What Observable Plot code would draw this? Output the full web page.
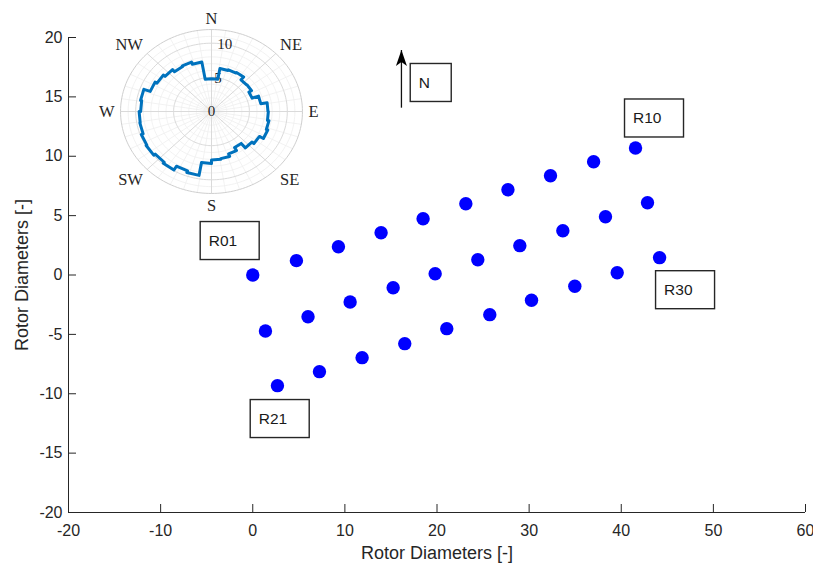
<!DOCTYPE html>
<html><head><meta charset="utf-8">
<script src="https://cdn.jsdelivr.net/npm/d3@7"></script>
<script src="https://cdn.jsdelivr.net/npm/@observablehq/plot@0.6"></script>
<style>
body{margin:0;background:#fff;}
#wrap{position:relative;width:813px;height:567px;overflow:hidden;}
#wrap svg{position:absolute;}
</style></head><body><div id="wrap"></div>
<script>
// ---------- data ----------
const xDomain = [-20, 60];
const yDomain = [-20, 20];
const xTicks = [-20, -10, 0, 10, 20, 30, 40, 50, 60];
const yTicks = [-20, -15, -10, -5, 0, 5, 10, 15, 20];
const xLabel = "Rotor Diameters [-]";
const yLabel = "Rotor Diameters [-]";

const turbineIds = d3.range(1, 31).map(i => "R" + String(i).padStart(2, "0"));
const turbineX = [
  0, 4.74, 9.3, 13.93, 18.49, 23.13, 27.7, 32.32, 37.0, 41.55,
  1.38, 6.0, 10.57, 15.24, 19.8, 24.43, 28.99, 33.66, 38.29, 42.85,
  2.68, 7.24, 11.87, 16.5, 21.06, 25.73, 30.26, 34.96, 39.56, 44.16
];
const turbineY = [
  0, 1.21, 2.38, 3.56, 4.74, 6.0, 7.18, 8.36, 9.54, 10.69,
  -4.72, -3.51, -2.27, -1.07, 0.11, 1.29, 2.47, 3.73, 4.91, 6.09,
  -9.32, -8.14, -6.96, -5.78, -4.52, -3.34, -2.13, -0.95, 0.19, 1.46
];

const labelNames = ["R01", "R10", "R21", "R30"];
const labelX = [-5.0, 41.06, 0.43, 44.43];
const labelY = [2.86, 13.18, -12.13, -1.28];

const northName = ["N"];
const northX = [17.8];
const northY = [16.17];

const arrowX = [16.14];
const arrowY1 = [14.09];
const arrowY2 = [18.95];

// wind rose: 36 sectors of 10 degrees, clockwise from North
const roseSectorStart = d3.range(0, 360, 10);
const roseValues = [
  4.8, 6.4, 6.5, 6.6, 6.05, 6.1, 5.7, 6.6, 7.45, 7.5,
  7.7, 7.9, 7.3, 6.95, 6.1, 6.6, 7.0, 7.1, 7.6, 9.5,
  9.25, 9.9, 9.7, 9.95, 9.85, 9.6, 9.55, 9.35, 9.5, 8.6,
  8.3, 8.0, 7.6, 7.7, 7.35, 4.8
];
const compassNames = ["N", "NE", "E", "SE", "S", "SW", "W", "NW"];
const compassDeg = [0, 45, 90, 135, 180, 225, 270, 315];
const rTicks = [0, 5, 10];
const rMax = 12;

// ---------- styles ----------
const W = 813, H = 567, mL = 68, mR = 8, mT = 37, mB = 55;
const plotW = W - mL - mR, plotH = H - mT - mB;
const ink = "#262626";
const sans = "'Liberation Sans', Arial, Helvetica, sans-serif";
const serif = "'Liberation Serif', 'Times New Roman', serif";

const turbines = turbineIds.map((id, i) => ({id, x: turbineX[i], y: turbineY[i]}));
const labels = labelNames.map((t, i) => ({text: t, x: labelX[i], y: labelY[i]}));
const north = northName.map((t, i) => ({text: t, x: northX[i], y: northY[i]}));
const arrows = arrowX.map((x, i) => ({x, y1: arrowY1[i], y2: arrowY2[i]}));

const arrowHead = {
  draw(ctx) {
    ctx.moveTo(0, 0);
    ctx.lineTo(-5.5, 16);
    ctx.lineTo(0, 12);
    ctx.lineTo(5.5, 16);
    ctx.closePath();
  }
};

function boxed(data, w) {
  return Plot.rect(data, {
    x1: "x", x2: "x", y1: "y", y2: "y",
    insetLeft: -6, insetRight: -(w - 6), insetTop: -19, insetBottom: -19,
    fill: "none", stroke: ink, strokeWidth: 1.4
  });
}

const main = Plot.plot({
  width: W, height: H,
  marginLeft: mL, marginRight: mR, marginTop: mT, marginBottom: mB,
  style: {background: "transparent", fontFamily: sans, color: ink},
  x: {domain: xDomain},
  y: {domain: yDomain},
  marks: [
    Plot.axisX({ticks: xTicks, tickSize: 0, tickPadding: 12, tickFormat: d => String(d), fontSize: 16, fill: ink, label: null}),
    Plot.axisY({ticks: yTicks, tickSize: 0, tickPadding: 6, tickFormat: d => String(d), fontSize: 16, fill: ink, label: null}),
    Plot.tickX(xTicks, {x: d => d, stroke: ink, insetTop: plotH - 8}),
    Plot.tickY(yTicks, {y: d => d, stroke: ink, insetRight: plotW - 8}),
    Plot.ruleY([yDomain[0]], {stroke: ink}),
    Plot.ruleX([xDomain[0]], {stroke: ink}),
    Plot.text([xLabel], {text: d => d, frameAnchor: "bottom", textAnchor: "middle", lineAnchor: "middle", dy: 41, fontSize: 18, fill: ink}),
    Plot.text([yLabel], {text: d => d, frameAnchor: "left", textAnchor: "middle", lineAnchor: "middle", dx: -46, rotate: -90, fontSize: 18, fill: ink}),
    Plot.dot(turbines, {x: "x", y: "y", r: 6.7, fill: "#0000ff"}),
    boxed(labels, 59),
    Plot.text(labels, {x: "x", y: "y", text: "text", textAnchor: "start", dx: 2, fontSize: 15.5, fill: "#1a1a1a"}),
    boxed(north, 41),
    Plot.text(north, {x: "x", y: "y", text: "text", textAnchor: "start", dx: 2, fontSize: 15.5, fill: "#1a1a1a"}),
    Plot.link(arrows, {x1: "x", x2: "x", y1: "y1", y2: "y2", stroke: "#111", strokeWidth: 1.3}),
    Plot.dot(arrows, {x: "x", y: "y2", symbol: arrowHead, r: 5, fill: "#000", stroke: "none"})
  ]
});

// ---------- polar inset ----------
const PW = 240, PH = 220, kx = 7.58, ky = 6.83;
const rad = b => b * Math.PI / 180;
const px = (b, r) => r * Math.sin(rad(b));
const py = (b, r) => r * Math.cos(rad(b));

const minorR = d3.range(1, rMax).filter(r => r % 5 !== 0);
const majorR = [5, 10];
const circle = r => d3.range(0, 361, 2).map(b => ({r, x: px(b, r), y: py(b, r)}));
const minorCircles = minorR.flatMap(circle);
const majorCircles = majorR.flatMap(circle);
const outerCircle = circle(rMax);
const minorSpokes = d3.range(0, 360, 9).filter(b => b % 45 !== 0).map(b => ({x2: px(b, rMax), y2: py(b, rMax)}));
const majorSpokes = compassDeg.map(b => ({x2: px(b, rMax), y2: py(b, rMax)}));

const rosePts = [];
roseSectorStart.forEach((b, i) => {
  rosePts.push({x: px(b, roseValues[i]), y: py(b, roseValues[i])});
  rosePts.push({x: px(b + 10, roseValues[i]), y: py(b + 10, roseValues[i])});
});
rosePts.push(rosePts[0]);

const labR = rMax + 0.8;
const compassMarks = compassNames.map((name, i) => {
  const b = compassDeg[i];
  const s = Math.sin(rad(b)), c = Math.cos(rad(b));
  return Plot.text([{name, x: px(b, labR), y: py(b, labR)}], {
    x: "x", y: "y", text: "name",
    textAnchor: s > 0.1 ? "start" : s < -0.1 ? "end" : "middle",
    lineAnchor: c > 0.1 ? "bottom" : c < -0.1 ? "top" : "middle",
    fontFamily: serif, fontSize: 16.5, fill: ink
  });
});
const rLabels = rTicks.map(r => ({t: String(r), x: px(10, r), y: py(10, r)}));

const polar = Plot.plot({
  width: PW, height: PH, margin: 0,
  x: {domain: [-PW / 2 / kx, PW / 2 / kx], axis: null},
  y: {domain: [-PH / 2 / ky, PH / 2 / ky], axis: null},
  style: {background: "transparent", overflow: "visible"},
  marks: [
    Plot.line(minorCircles, {x: "x", y: "y", z: "r", stroke: "#efefef", strokeWidth: 0.8}),
    Plot.link(minorSpokes, {x1: 0, y1: 0, x2: "x2", y2: "y2", stroke: "#efefef", strokeWidth: 0.8}),
    Plot.line(majorCircles, {x: "x", y: "y", z: "r", stroke: "#dadada", strokeWidth: 1}),
    Plot.link(majorSpokes, {x1: 0, y1: 0, x2: "x2", y2: "y2", stroke: "#dadada", strokeWidth: 1}),
    Plot.line(outerCircle, {x: "x", y: "y", stroke: "#cfcfcf", strokeWidth: 1}),
    ...compassMarks,
    Plot.text(rLabels, {x: "x", y: "y", text: "t", fontFamily: serif, fontSize: 15, fill: ink}),
    Plot.line(rosePts, {x: "x", y: "y", stroke: "#0072BD", strokeWidth: 3, strokeLinejoin: "round", curve: "linear"})
  ]
});

const wrap = document.getElementById("wrap");
main.style.left = "0px"; main.style.top = "0px";
polar.style.left = "90.5px"; polar.style.top = "0.5px";
wrap.appendChild(main);
wrap.appendChild(polar);
</script></body></html>
